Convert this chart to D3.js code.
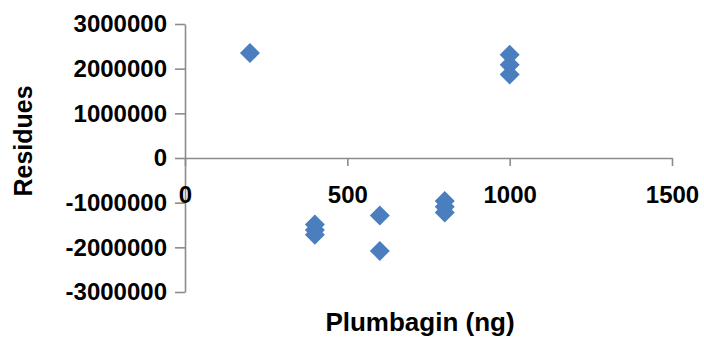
<!DOCTYPE html>
<html>
<head>
<meta charset="utf-8">
<script src="https://cdn.jsdelivr.net/npm/d3@7"></script>
<style>
  body { margin: 0; background: #fff; }
  text { font-family: "Liberation Sans", Arial, sans-serif; font-weight: bold; fill: #000; }
</style>
</head>
<body>
<div id="chart"></div>
<script>
// data
const plumbagin = [200, 400, 400, 400, 600, 600, 800, 800, 800, 1000, 1000, 1000];
const residues  = [2350000, -1490000, -1610000, -1720000, -1290000, -2080000,
                   -960000, -1090000, -1220000, 2310000, 2090000, 1870000];
const xTicks = [0, 500, 1000, 1500];
const yTicks = [-3000000, -2000000, -1000000, 0, 1000000, 2000000, 3000000];

const width = 704;
const height = 339;

const xScale = d3.scaleLinear().domain([0, 1500]).range([185, 672]);
const yScale = d3.scaleLinear().domain([-3000000, 3000000]).range([292, 24]);

const svg = d3.select("#chart").append("svg")
    .attr("width", width)
    .attr("height", height);

const yAxis = d3.axisLeft(yScale)
    .tickValues(yTicks)
    .tickFormat(d => String(d))
    .tickSize(10)
    .tickSizeOuter(0)
    .tickPadding(8);

const xAxis = d3.axisBottom(xScale)
    .tickValues(xTicks)
    .tickFormat(d => String(d))
    .tickSize(8)
    .tickSizeOuter(0)
    .tickPadding(20);

const yAxisG = svg.append("g")
    .attr("transform", `translate(${xScale(0)},0)`)
    .call(yAxis);

const xAxisG = svg.append("g")
    .attr("transform", `translate(0,${yScale(0)})`)
    .call(xAxis);

[xAxisG, yAxisG].forEach(g => {
  g.selectAll("path, line").attr("stroke", "#8c8c8c").attr("stroke-width", 1.6);
  g.selectAll("text")
    .attr("fill", "#000")
    .style("font-family", '"Liberation Sans", Arial, sans-serif')
    .style("font-weight", "bold")
    .style("font-size", "24px");
});

// diamonds
const diamond = d3.symbol().type(d3.symbolSquare).size(200);
svg.selectAll("path.pt")
  .data(plumbagin.map((x, i) => ({x: x, y: residues[i]})))
  .enter().append("path")
    .attr("class", "pt")
    .attr("d", diamond)
    .attr("transform", d => `translate(${xScale(d.x)},${yScale(d.y)}) rotate(45)`)
    .attr("fill", "#4a7ebe");

// axis titles
svg.append("text")
    .attr("x", 420)
    .attr("y", 331)
    .attr("text-anchor", "middle")
    .style("font-size", "26px")
    .text("Plumbagin (ng)");

svg.append("text")
    .attr("transform", `translate(32,141) rotate(-90)`)
    .attr("text-anchor", "middle")
    .style("font-size", "25px")
    .text("Residues");
</script>
</body>
</html>
